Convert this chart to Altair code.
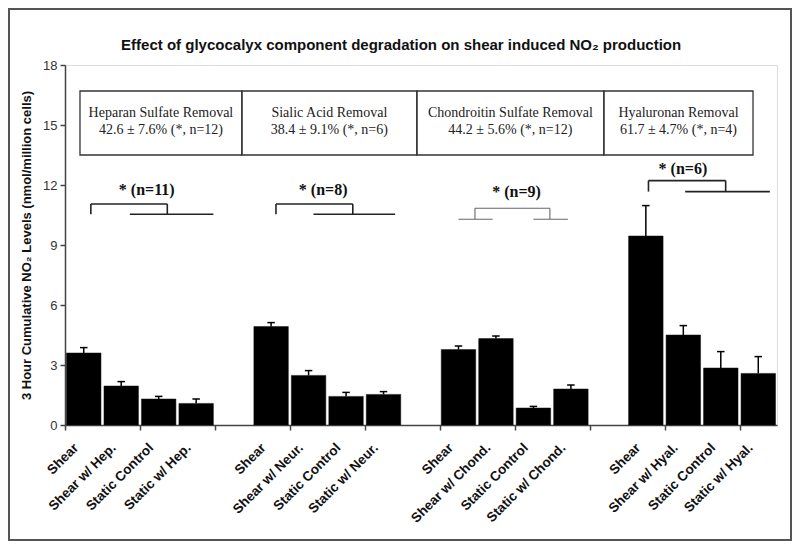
import altair as alt
import pandas as pd

# ---------------- data ----------------
chart_title = "Effect of glycocalyx component degradation on shear induced NO₂ production"
title_pos = [8.97, 19.0]   # slot / NO2 units, centre of the title line

box_titles = ["Heparan Sulfate Removal", "Sialic Acid Removal",
              "Chondroitin Sulfate Removal", "Hyaluronan Removal"]
box_stats = ["42.6 ± 7.6% (*, n=12)", "38.4 ± 9.1% (*, n=6)",
             "44.2 ± 5.6% (*, n=12)", "61.7 ± 4.7% (*, n=4)"]

conditions = [
    ["Shear", "Shear w/ Hep.", "Static Control", "Static w/ Hep."],
    ["Shear", "Shear w/ Neur.", "Static Control", "Static w/ Neur."],
    ["Shear", "Shear w/ Chond.", "Static Control", "Static w/ Chond."],
    ["Shear", "Shear w/ Hyal.", "Static Control", "Static w/ Hyal."],
]
means = [
    [3.60, 1.95, 1.30, 1.08],
    [4.92, 2.48, 1.43, 1.53],
    [3.77, 4.32, 0.85, 1.80],
    [9.45, 4.50, 2.85, 2.58],
]
errors = [
    [0.27, 0.22, 0.13, 0.22],
    [0.20, 0.24, 0.20, 0.14],
    [0.18, 0.13, 0.08, 0.20],
    [1.52, 0.47, 0.82, 0.84],
]

sig_labels = ["* (n=11)", "* (n=8)", "* (n=9)", "* (n=6)"]
sig_x = [2.18, 6.89, 12.05, 16.49]
sig_y = [11.75, 11.75, 11.67, 12.79]

# bracket segments (x1, x2, y1, y2) in slot / NO2 units
bracket_x1 = [0.69, 0.69, 2.73, 1.73,
              5.63, 5.63, 7.68, 6.63,
              10.94, 10.94, 12.94, 10.50, 12.50,
              15.57, 15.57, 17.63, 16.55]
bracket_x2 = [2.73, 0.69, 2.73, 3.96,
              7.68, 5.63, 7.68, 8.81,
              12.94, 10.94, 12.94, 11.41, 13.42,
              17.63, 15.57, 17.63, 18.81]
bracket_y1 = [11.05, 11.05, 11.05, 10.54,
              11.05, 11.05, 11.05, 10.54,
              10.84, 10.84, 10.84, 10.29, 10.29,
              12.22, 12.22, 12.22, 11.67]
bracket_y2 = [11.05, 10.54, 10.54, 10.54,
              11.05, 10.54, 10.54, 10.54,
              10.84, 10.29, 10.29, 10.29, 10.29,
              12.22, 11.67, 11.67, 11.67]
bracket_style = ["bold"] * 8 + ["thin"] * 5 + ["bold"] * 4

box_edges = [0.40, 4.72, 9.39, 14.38, 18.36]
box_bottom, box_top = 13.5, 16.7
box_line_y = [15.58, 14.75]

# ---------------- tables ----------------
rows = []
for g in range(4):
    for c in range(4):
        rows.append({"slot": g * 5 + c, "label": conditions[g][c],
                     "mean": means[g][c], "err": errors[g][c]})
bars = pd.DataFrame(rows)

boxes = pd.DataFrame({"x1": box_edges[:-1], "x2": box_edges[1:],
                      "y1": [box_bottom] * 4, "y2": [box_top] * 4})
box_text = pd.DataFrame({
    "x": [(box_edges[i] + box_edges[i + 1]) / 2 for i in range(4)] * 2,
    "y": [box_line_y[0]] * 4 + [box_line_y[1]] * 4,
    "t": box_titles + box_stats,
})
sig = pd.DataFrame({"x": sig_x, "y": sig_y, "t": sig_labels})
brackets = pd.DataFrame({"x1": bracket_x1, "x2": bracket_x2,
                         "y1": bracket_y1, "y2": bracket_y2,
                         "style": bracket_style})
title_df = pd.DataFrame({"x": [title_pos[0]], "y": [title_pos[1]], "t": [chart_title]})

SANS = "Liberation Sans, Arial, sans-serif"
SERIF = "Liberation Serif, Times New Roman, serif"

xscale = alt.Scale(domain=[0, 19], nice=False, zero=False)
yscale = alt.Scale(domain=[0, 18], nice=False)

base = alt.Chart(bars).transform_calculate(
    x1="datum.slot + 0.04", x2="datum.slot + 0.96",
    xc="datum.slot + 0.5", top="datum.mean + datum.err",
    c1="datum.slot + 0.4", c2="datum.slot + 0.6", zero="0"
)

bar_layer = base.mark_bar(color="black", stroke="#111", strokeWidth=0.5).encode(
    x=alt.X("x1:Q", scale=xscale,
            axis=alt.Axis(values=list(range(20)), labels=False, title=None,
                          grid=False, tickSize=5, domainColor="#444",
                          tickColor="#444", domainWidth=1.5, tickWidth=1.5)),
    x2="x2:Q",
    y=alt.Y("mean:Q", scale=yscale,
            axis=alt.Axis(values=[0, 3, 6, 9, 12, 15, 18], grid=False,
                          title="3 Hour Cumulative NO₂ Levels (nmol/million cells)",
                          titleFont=SANS, titleFontSize=13, titleFontWeight="bold",
                          titleColor="#111", titlePadding=9,
                          labelFont=SANS, labelFontSize=13, labelColor="#333",
                          labelPadding=3, tickSize=5, domainColor="#444",
                          tickColor="#444", domainWidth=1.5, tickWidth=1.5)),
    y2=alt.datum(0),
)

err_stem = base.mark_rule(color="black", strokeWidth=1.5).encode(
    x="xc:Q", y="mean:Q", y2="top:Q")
err_cap = base.mark_rule(color="black", strokeWidth=1.5).encode(
    x="c1:Q", x2="c2:Q", y="top:Q")

xlabels = base.mark_text(font=SANS, fontSize=13.5, fontWeight="bold", color="#111",
                         angle=315, align="right", baseline="middle",
                         dx=-20, dy=9.5).encode(
    x="xc:Q", y="zero:Q", text="label:N")

box_layer = alt.Chart(boxes).mark_rect(fillOpacity=0, stroke="#333",
                                       strokeWidth=1.3).encode(
    x="x1:Q", x2="x2:Q", y="y1:Q", y2="y2:Q")

box_text_layer = alt.Chart(box_text).mark_text(
    font=SERIF, fontSize=14, color="#222").encode(x="x:Q", y="y:Q", text="t:N")

sig_layer = alt.Chart(sig).mark_text(
    font=SERIF, fontSize=16, fontWeight="bold", color="#111").encode(
    x="x:Q", y="y:Q", text="t:N")

bracket_layer = alt.Chart(brackets).mark_rule().encode(
    x="x1:Q", x2="x2:Q", y="y1:Q", y2="y2:Q",
    color=alt.Color("style:N", legend=None,
                    scale=alt.Scale(domain=["bold", "thin"], range=["#222", "#666"])),
    strokeWidth=alt.StrokeWidth("style:N", legend=None,
                                scale=alt.Scale(domain=["bold", "thin"], range=[1.6, 1.1])),
)

title_layer = alt.Chart(title_df).mark_text(
    font=SANS, fontSize=15, fontWeight="bold", color="#111",
    baseline="middle").encode(x="x:Q", y="y:Q", text="t:N")

frame = alt.Chart(pd.DataFrame({"a": [0]})).mark_rect(
    fillOpacity=0, stroke="#555", strokeWidth=2).encode(
    x=alt.value(-56), x2=alt.value(726), y=alt.value(-56), y2=alt.value(475))

chart = alt.layer(
    box_layer, box_text_layer, bracket_layer, sig_layer,
    bar_layer, err_stem, err_cap, xlabels, title_layer, frame
).properties(
    width=712, height=360,
    padding={"left": 57, "top": 57, "right": 15, "bottom": 116},
    autosize=alt.AutoSizeParams(type="none"),
).configure_view(stroke="#999", strokeWidth=1.5
).configure(background="white")

chart.save("out.html", embed_options={"renderer": "svg", "actions": False})
